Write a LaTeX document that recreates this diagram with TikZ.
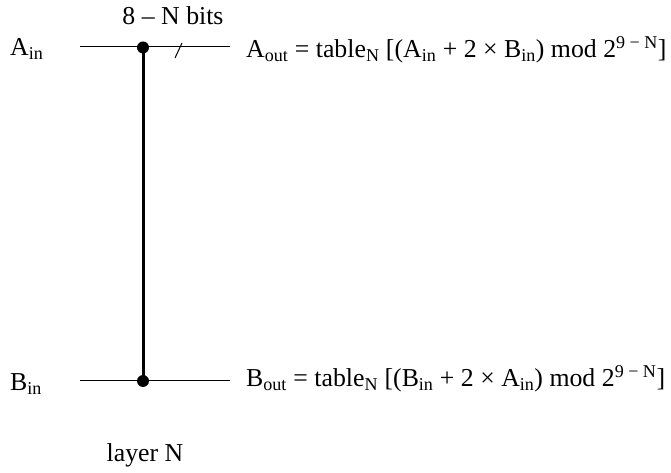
\documentclass[tikz,border=0pt]{standalone}
\usepackage{fontspec}
\setmainfont{Liberation Serif}
\newcommand{\sub}[1]{\textsubscript{#1}}
\newcommand{\sups}[1]{\textsuperscript{#1}}
\begin{document}
\begin{tikzpicture}[x=1pt,y=1pt,
  wire/.style={line width=1pt},
  rung/.style={line width=3pt},
  junc/.style={circle,fill=black,inner sep=0pt,minimum size=12pt},
  lbl/.style={font=\fontsize{25.8}{30}\selectfont,inner sep=0pt}]
\useasboundingbox (0,0) rectangle (671,473);
% wires
\coordinate (aL) at (80,426);
\coordinate (aR) at (230,426);
\coordinate (bL) at (80,92);
\coordinate (bR) at (230,92);
\node[junc] (ja) at (143,425.5) {};
\node[junc] (jb) at (143,92) {};
\draw[wire] (aL) -- (aR);
\draw[wire] (bL) -- (bR);
\draw[rung] (ja.center) -- (jb.center);
% bus slash
\coordinate (s1) at (175,415);
\coordinate (s2) at (182,430);
\draw[wire] (s1) -- (s2);
% labels
\node[lbl] (bits) at (173,457) {8 – N bits};
\node[lbl,anchor=west] (ain) at (10,424) {A\sub{in}};
\node[lbl,anchor=west] (bin) at (10,89) {B\sub{in}};
\node[lbl,anchor=west] (aout) at (246,423) {A\sub{out} = table\sub{N} [(A\sub{in} + 2 × B\sub{in}) mod 2\sups{9 − N}]};
\node[lbl,anchor=west] (bout) at (246,94) {B\sub{out} = table\sub{N} [(B\sub{in} + 2 × A\sub{in}) mod 2\sups{9 − N}]};
\node[lbl] (layer) at (145,18) {layer N};
\end{tikzpicture}
\end{document}
